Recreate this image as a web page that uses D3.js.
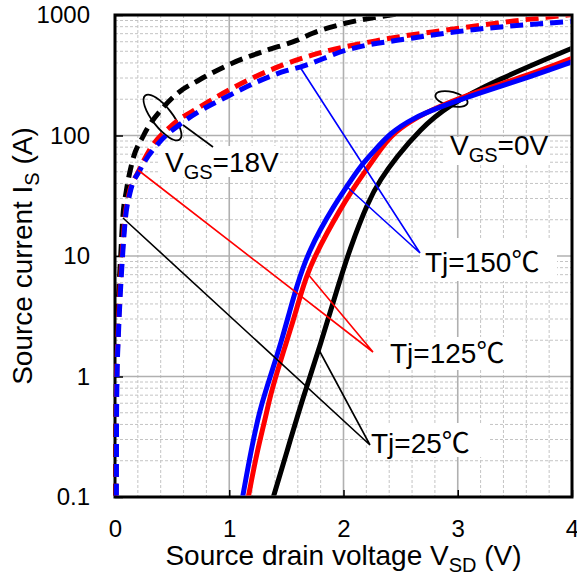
<!DOCTYPE html>
<html>
<head>
<meta charset="utf-8">
<script src="https://cdn.jsdelivr.net/npm/d3@7"></script>
<style>
  html, body { margin: 0; padding: 0; background: #fff; }
  svg { display: block; }
  text { font-family: "Liberation Sans", Arial, sans-serif; fill: #000; }
</style>
</head>
<body>
<svg id="chart" width="577" height="576"></svg>
<script>
// Source current vs. source-drain voltage (third-quadrant characteristics)

// Axis ticks
const xTicks = [0, 1, 2, 3, 4];
const yTicks = [0.1, 1, 10, 100, 1000];
const yTickLabels = ["0.1", "1", "10", "100", "1000"];

// VGS = 18 V (dashed), [V_SD, I_S]
const vgs18_25C = [[0.006,0.1],[0.008,0.5],[0.012,1],[0.02,2.5],[0.035,5.5],[0.05,10],[0.067,20],[0.1,35],[0.15,60],[0.25,100],[0.42,170],[0.55,225],[0.74,290],[1.03,400],[1.33,510],[1.59,615],[1.73,705],[2.03,860],[2.41,1000],[2.7,1100]];
const vgs18_125C = [[0.009,0.1],[0.011,0.5],[0.015,1],[0.025,2],[0.04,4.5],[0.062,10],[0.085,20],[0.12,32],[0.204,50],[0.3,75],[0.5,122],[0.74,172],[1.03,248],[1.47,385],[1.73,466],[2.32,620],[2.9,751],[3.49,891],[3.96,1000],[4.0,1010]];
const vgs18_150C = [[0.012,0.1],[0.014,0.5],[0.018,1],[0.028,2],[0.042,4],[0.066,10],[0.09,20],[0.13,33],[0.22,52],[0.39,88],[0.6,130],[1.0,215],[1.5,345],[1.62,370],[2.03,513],[2.61,645],[3.19,765],[3.6,830],[4.0,885]];

// VGS = 0 V (solid, body diode), [V_SD, I_S]
const vgs0_25C = [[1.386,0.1],[1.50,0.23],[1.65,0.69],[1.80,1.86],[1.93,4.8],[2.06,11.9],[2.22,29],[2.32,42.7],[2.466,66.7],[2.67,112],[2.90,174],[3.34,289],[4.0,530]];
const vgs0_125C = [[1.167,0.1],[1.24,0.23],[1.313,0.44],[1.357,0.68],[1.415,1.06],[1.488,1.77],[1.561,2.94],[1.619,4.57],[1.678,6.9],[1.751,10],[1.853,15.4],[1.969,24.1],[2.057,33],[2.17,47.5],[2.29,69],[2.41,100],[2.6,135],[2.84,176],[3.19,235],[3.63,320],[4.0,437]];
const vgs0_150C = [[1.117,0.1],[1.196,0.26],[1.269,0.53],[1.313,0.73],[1.386,1.2],[1.459,2.0],[1.532,3.56],[1.59,5.56],[1.648,8.15],[1.707,11.2],[1.794,16.4],[1.911,25.6],[2.028,37.6],[2.14,54.6],[2.27,75],[2.41,105],[2.6,138],[2.84,172],[3.19,225],[3.63,306],[4.0,408]];

const svg = d3.select("#chart");
const L = 115, R = 572, T = 15, B = 497;

const x = d3.scaleLinear().domain([0, 4]).range([L, R]);
const y = d3.scaleLog().domain([0.1, 1000]).range([B, T]);

// Grid
const grid = svg.append("g");
const xMinor = d3.range(1, 20).map(i => i * 0.2).filter(v => Math.abs(v - Math.round(v)) > 1e-6);
const yMinor = [];
[0.1, 1, 10, 100].forEach(d => { for (let k = 2; k <= 9; k++) yMinor.push(d * k); });

grid.selectAll(".xm").data(xMinor).join("line")
  .attr("x1", d => x(d)).attr("x2", d => x(d)).attr("y1", T).attr("y2", B)
  .attr("stroke", "#c4c4c4").attr("stroke-width", 1).attr("stroke-dasharray", "3,2");
grid.selectAll(".ym").data(yMinor).join("line")
  .attr("x1", L).attr("x2", R).attr("y1", d => y(d)).attr("y2", d => y(d))
  .attr("stroke", "#c4c4c4").attr("stroke-width", 1).attr("stroke-dasharray", "3,2");
grid.selectAll(".xM").data([1, 2, 3]).join("line")
  .attr("x1", d => x(d)).attr("x2", d => x(d)).attr("y1", T).attr("y2", B)
  .attr("stroke", "#b0b0b0").attr("stroke-width", 1.6);
grid.selectAll(".yM").data([1, 10, 100]).join("line")
  .attr("x1", L).attr("x2", R).attr("y1", d => y(d)).attr("y2", d => y(d))
  .attr("stroke", "#b0b0b0").attr("stroke-width", 1.6);

// Axes (ticks pointing inward)
const fontStack = '"Liberation Sans", Arial, sans-serif';
const xAxis = svg.append("g").attr("transform", `translate(0,${B})`)
  .call(d3.axisBottom(x).tickValues(xTicks).tickFormat(d3.format("d")).tickSizeInner(-7).tickSizeOuter(0).tickPadding(23));
const yAxis = svg.append("g").attr("transform", `translate(${L},0)`)
  .call(d3.axisLeft(y).tickValues(yTicks).tickFormat((d, i) => yTickLabels[i]).tickSizeInner(-8).tickSizeOuter(0).tickPadding(25));
[xAxis, yAxis].forEach(g => {
  g.select(".domain").remove();
  g.selectAll(".tick line").attr("stroke", "#000").attr("stroke-width", 1.5);
  g.selectAll(".tick text").attr("font-size", 24).attr("font-family", fontStack).attr("fill", "#000");
});

// Label backgrounds
const boxes = [[160, 146, 120, 31], [445, 137, 105, 28], [420, 238, 137, 43], [387, 337, 135, 33], [370, 423, 118, 34]];
svg.append("g").selectAll("rect").data(boxes).join("rect")
  .attr("x", d => d[0]).attr("y", d => d[1]).attr("width", d => d[2]).attr("height", d => d[3])
  .attr("fill", "#fff");

// Grouping ellipses
svg.append("ellipse").attr("cx", 0).attr("cy", 0).attr("rx", 28).attr("ry", 10)
  .attr("transform", "translate(162.5,117.5) rotate(52)")
  .attr("fill", "none").attr("stroke", "#000").attr("stroke-width", 1.8);
svg.append("ellipse").attr("cx", 0).attr("cy", 0).attr("rx", 16.5).attr("ry", 7)
  .attr("transform", "translate(451.5,99) rotate(14)")
  .attr("fill", "none").attr("stroke", "#000").attr("stroke-width", 1.8);

// Frame
svg.append("rect").attr("x", L).attr("y", T).attr("width", R - L).attr("height", B - T)
  .attr("fill", "none").attr("stroke", "#000").attr("stroke-width", 3);

// Curves
svg.append("clipPath").attr("id", "plotClip").append("rect")
  .attr("x", L - 3).attr("y", T + 1.5).attr("width", R - L + 1.5).attr("height", B - T - 3);
const dashedLine = d3.line().x(d => x(d[0])).y(d => y(d[1])).curve(d3.curveMonotoneX);
const solidLine = d3.line().x(d => x(d[0])).y(d => y(d[1])).curve(d3.curveBasis);
const curves = svg.append("g").attr("clip-path", "url(#plotClip)");
const series = [
  { data: vgs18_25C, color: "#000", dash: "13,7" },
  { data: vgs18_125C, color: "#ff0000", dash: "13,7" },
  { data: vgs18_150C, color: "#0000ff", dash: "13,7" },
  { data: vgs0_25C, color: "#000", dash: null },
  { data: vgs0_125C, color: "#ff0000", dash: null },
  { data: vgs0_150C, color: "#0000ff", dash: null }
];
series.forEach(s => {
  const gen = s.dash ? dashedLine : solidLine;
  curves.append("path").attr("d", gen(s.data))
    .attr("fill", "none").attr("stroke", s.color).attr("stroke-width", 5)
    .attr("stroke-dasharray", s.dash);
});

// Leader lines
const leaders = [
  { color: "#0000ff", pts: [[300, 67], [420, 253], [345, 185]] },
  { color: "#ff0000", pts: [[138, 170], [373, 352], [307, 273]] },
  { color: "#000", pts: [[123, 218], [370, 445], [319, 350]] }
];
leaders.forEach(l => {
  svg.append("polyline").attr("points", l.pts.map(p => p.join(",")).join(" "))
    .attr("fill", "none").attr("stroke", l.color).attr("stroke-width", 1.6);
});
svg.append("line").attr("x1", 183).attr("y1", 125).attr("x2", 213).attr("y2", 147)
  .attr("stroke", "#000").attr("stroke-width", 1.6);

// Annotation text
function vgs(xp, yp, value) {
  const t = svg.append("text").attr("x", xp).attr("y", yp).attr("font-size", 28);
  t.append("tspan").text("V");
  t.append("tspan").attr("font-size", 20).attr("dy", 7).text("GS");
  t.append("tspan").attr("dy", -7).text("=" + value);
}
vgs(165, 172, "18V");
vgs(450, 155, "0V");

function tj(xp, yp, temp) {
  const t = svg.append("text").attr("x", xp).attr("y", yp).attr("font-size", 28);
  t.append("tspan").text("Tj=" + temp);
  t.append("tspan").style("font-family", '"Noto Sans CJK JP", "Liberation Sans", sans-serif').text("\u2103");
}
tj(425, 272, "150");
tj(390, 363, "125");
tj(371, 453, "25");

// Axis titles
const xt = svg.append("text").attr("x", (L + R) / 2).attr("y", 565)
  .attr("text-anchor", "middle").attr("font-size", 28);
xt.append("tspan").text("Source drain voltage V");
xt.append("tspan").attr("font-size", 20).attr("dy", 7).text("SD");
xt.append("tspan").attr("dy", -7).text(" (V)");

const yt = svg.append("text").attr("transform", `translate(32,${(T + B) / 2}) rotate(-90)`)
  .attr("text-anchor", "middle").attr("font-size", 28);
yt.append("tspan").text("Source current I");
yt.append("tspan").attr("font-size", 20).attr("dy", 7).text("S");
yt.append("tspan").attr("dy", -7).text(" (A)");
</script>
</body>
</html>
